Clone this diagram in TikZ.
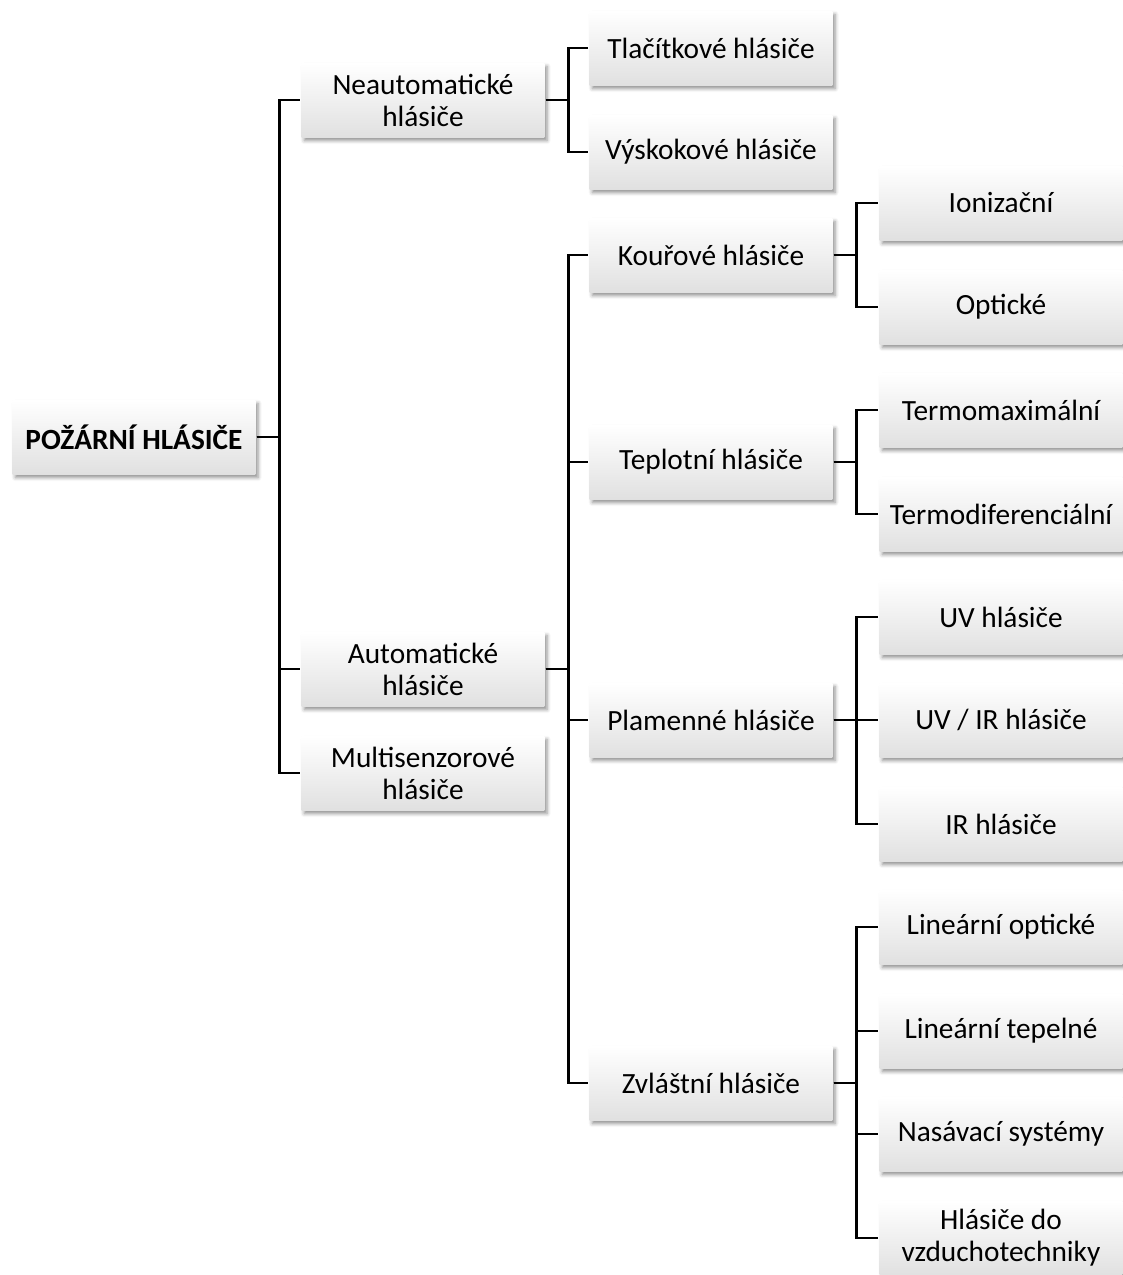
\documentclass[tikz,border=0pt]{standalone}
\usepackage{fontspec}
\setmainfont{Carlito}
\usetikzlibrary{shadows.blur}

\begin{document}
\begin{tikzpicture}[x=0.375pt,y=-0.375pt,line width=0.9pt,
    font=\fontsize{11}{12}\selectfont,
    box/.style={rectangle,align=center,inner sep=1pt,
        minimum width=91pt,minimum height=27.75pt,
        top color=white,bottom color=black!12,
        blur shadow={shadow xshift=1pt,shadow yshift=-1.3pt,
            shadow blur radius=1.4pt,shadow opacity=45}},
    elbow/.style={to path={-- ++(23,0) |- (\tikztotarget)}}]
    \clip (0,0) rectangle (1123,1275);
    %% Root
    \node[box,font=\fontsize{11}{12}\selectfont\bfseries] (root) at (134,437) {POŽÁRNÍ HLÁSIČE};
    %% First level
    \node[box] (neauto) at (423,100) {Neautomatické\\hlásiče};
    \node[box] (auto) at (423,669) {Automatické\\hlásiče};
    \node[box] (multi) at (423,773) {Multisenzorové\\hlásiče};
    %% Second level
    \node[box] (tlac) at (711,48) {Tlačítkové hlásiče};
    \node[box] (vysk) at (711,152) {Výskokové hlásiče};
    \node[box] (kour) at (711,255) {Kouřové hlásiče};
    \node[box] (tepl) at (711,462) {Teplotní hlásiče};
    \node[box] (plam) at (711,720) {Plamenné hlásiče};
    \node[box] (zvl) at (711,1083) {Zvláštní hlásiče};
    %% Third level
    \node[box] (ion) at (1001,203) {Ionizační};
    \node[box] (opt) at (1001,307) {Optické};
    \node[box] (tmax) at (1001,410) {Termomaximální};
    \node[box] (tdif) at (1001,514) {Termodiferenciální};
    \node[box] (uv) at (1001,617) {UV hlásiče};
    \node[box] (uvir) at (1001,720) {UV / IR hlásiče};
    \node[box] (ir) at (1001,824) {IR hlásiče};
    \node[box] (lopt) at (1001,927) {Lineární optické};
    \node[box] (ltep) at (1001,1031) {Lineární tepelné};
    \node[box] (nas) at (1001,1134) {Nasávací systémy};
    \node[box] (vzd) at (1001,1238) {Hlásiče do\\vzduchotechniky};
    %% Connectors
    \draw[elbow] (root.east) to (neauto.west);
    \draw[elbow] (root.east) to (auto.west);
    \draw[elbow] (root.east) to (multi.west);
    \draw[elbow] (neauto.east) to (tlac.west);
    \draw[elbow] (neauto.east) to (vysk.west);
    \draw[elbow] (auto.east) to (kour.west);
    \draw[elbow] (auto.east) to (tepl.west);
    \draw[elbow] (auto.east) to (plam.west);
    \draw[elbow] (auto.east) to (zvl.west);
    \draw[elbow] (kour.east) to (ion.west);
    \draw[elbow] (kour.east) to (opt.west);
    \draw[elbow] (tepl.east) to (tmax.west);
    \draw[elbow] (tepl.east) to (tdif.west);
    \draw[elbow] (plam.east) to (uv.west);
    \draw[elbow] (plam.east) to (uvir.west);
    \draw[elbow] (plam.east) to (ir.west);
    \draw[elbow] (zvl.east) to (lopt.west);
    \draw[elbow] (zvl.east) to (ltep.west);
    \draw[elbow] (zvl.east) to (nas.west);
    \draw[elbow] (zvl.east) to (vzd.west);
\end{tikzpicture}
\end{document}
